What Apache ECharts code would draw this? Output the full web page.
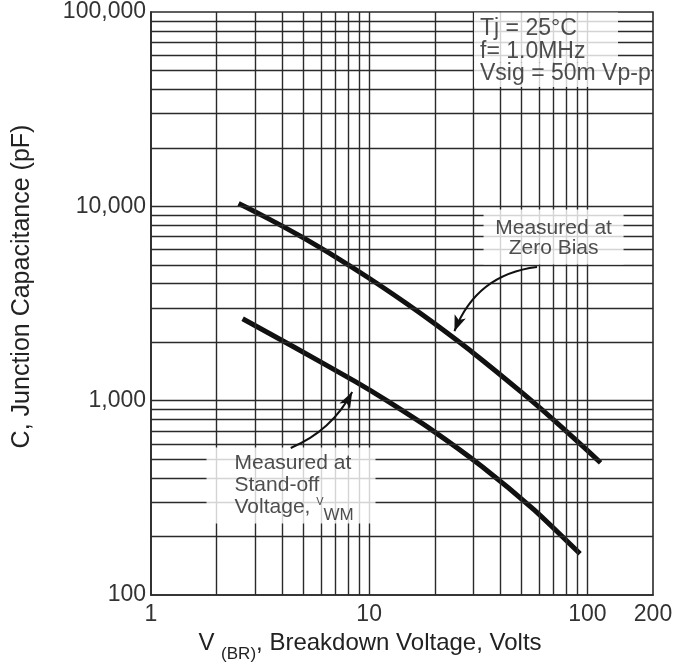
<!DOCTYPE html>
<html><head><meta charset="utf-8">
<script src="https://cdn.jsdelivr.net/npm/echarts@6/dist/echarts.min.js"></script>
<style>html,body{margin:0;padding:0;background:#fff}#c{width:677px;height:665px}</style>
</head><body><div id="c"></div>
<script>
// ---- data ----
const xTickValues = [1, 10, 100, 200];
const yTickValues = [100, 1000, 10000, 100000];
const xGridValues = [2, 3, 4, 5, 6, 7, 8, 9, 10, 20, 30, 40, 50, 60, 70, 80, 90, 100];
const yGridValues = [200, 300, 400, 500, 600, 700, 800, 900, 1000,
  2000, 3000, 4000, 5000, 6000, 7000, 8000, 9000, 10000,
  20000, 30000, 40000, 50000, 60000, 70000, 80000, 90000];

const zeroBiasVolts = [2.52, 3, 4, 5, 7, 10, 15, 20, 30, 50, 70, 100, 115];
const zeroBiasCap   = [10350, 9385, 7913, 6875, 5495, 4264, 3133, 2485, 1760, 1103, 797, 555, 479];
const standoffVolts = [2.63, 4.52, 8.69, 12.0, 19.2, 33.1, 56.9, 92.6];
const standoffCap   = [2640, 1889, 1249, 1003, 712, 456, 275, 163];

// annotation anchors and arrows (data coordinates)
const conditionsAnchor  = [30.4, 98820];
const conditionsAnchor2 = [30.4, 54650];
const zeroBiasNoteAnchor = [70.4, 9575];
const standoffNoteAnchor = [1.806, 570.6];
const zeroBiasArrow = [[58.8, 4873], [24.6, 2277]];
const standoffArrow = [[4.37, 571], [8.36, 1107]];

const FONT = '"Liberation Sans", Arial, sans-serif';
const TXT = '#222';
const GRID = '#2a2a2a';
const fmtComma = v => String(Math.round(v)).replace(/\B(?=(\d{3})+(?!\d))/g, ',');
const zip = (a, b) => a.map((v, i) => [v, b[i]]);

const chart = echarts.init(document.getElementById('c'), null, {renderer: 'canvas'});
chart.setOption({
  animation: false,
  backgroundColor: '#fff',
  grid: {left: 151, right: 24, top: 12, bottom: 70, show: true, borderColor: GRID, borderWidth: 1.6,
         backgroundColor: 'transparent', containLabel: false, outerBoundsMode: 'none'},
  xAxis: {
    type: 'log', logBase: 10, min: 1, max: 200,
    axisLine: {show: true, lineStyle: {color: GRID, width: 1.6}},
    axisTick: {show: false}, splitLine: {show: false}, minorTick: {show: false}, minorSplitLine: {show: false},
    axisLabel: {customValues: xTickValues, fontSize: 23, color: '#333', fontFamily: FONT, margin: 8,
                formatter: v => String(v)},
    name: '{a|V}{sp| }{sub|(BR)}{a|, Breakdown Voltage, Volts}',
    nameLocation: 'middle', nameGap: 31,
    nameTextStyle: {
      padding: [0, 64, 0, 0],
      rich: {
        a: {fontSize: 24, lineHeight: 25, verticalAlign: 'top', fontFamily: FONT, color: TXT},
        sp: {fontSize: 24, lineHeight: 32, verticalAlign: 'top', fontFamily: FONT, color: TXT},
        sub: {fontSize: 17, lineHeight: 17, verticalAlign: 'bottom', fontFamily: FONT, color: TXT}
      }
    }
  },
  yAxis: {
    type: 'log', logBase: 10, min: 100, max: 100000,
    axisLine: {show: true, lineStyle: {color: GRID, width: 1.6}},
    axisTick: {show: false}, splitLine: {show: false}, minorTick: {show: false}, minorSplitLine: {show: false},
    axisLabel: {customValues: yTickValues, fontSize: 23, color: '#333', fontFamily: FONT, margin: 5,
                formatter: v => fmtComma(v)},
    name: 'C, Junction Capacitance (pF)',
    nameLocation: 'middle', nameGap: 116,
    nameTextStyle: {fontSize: 25, color: TXT, fontFamily: FONT, padding: [0, 0, 0, 34]}
  },
  series: [
    {
      name: 'grid', type: 'scatter', data: [], z: 1, silent: true,
      markLine: {
        silent: true, symbol: ['none', 'none'], animation: false,
        label: {show: false}, emphasis: {disabled: true},
        lineStyle: {color: GRID, width: 1.4, type: 'solid'},
        data: xGridValues.map(v => ({xAxis: v})).concat(yGridValues.map(v => ({yAxis: v})))
      }
    },
    {
      name: 'Measured at Zero Bias', type: 'line', z: 3, smooth: 0.2, symbol: 'none',
      lineStyle: {color: '#111', width: 5},
      data: zip(zeroBiasVolts, zeroBiasCap)
    },
    {
      name: 'Measured at Stand-off Voltage', type: 'line', z: 3, smooth: 0.2, symbol: 'none',
      lineStyle: {color: '#111', width: 5},
      data: zip(standoffVolts, standoffCap)
    },
    {
      name: 'notes', type: 'scatter', z: 5, silent: true, symbolSize: 1,
      itemStyle: {color: 'rgba(0,0,0,0)'},
      label: {show: true, position: [0, 0], align: 'left', verticalAlign: 'top',
              fontFamily: FONT, color: TXT, fontSize: 21, backgroundColor: '#fff'},
      data: [
        {value: conditionsAnchor, label: {formatter: 'Tj = 25°C\nf= 1.0MHz', fontSize: 23, padding: [5, 0, 0, 6], width: 138, lineHeight: 22.5}},
        {value: conditionsAnchor2, label: {formatter: 'Vsig = 50m Vp-p', fontSize: 23, padding: [0, 0, 2, 6], width: 171, lineHeight: 22.5}},
        {value: zeroBiasNoteAnchor, label: {formatter: 'Measured at\nZero Bias', align: 'center', padding: [9, 0, 6, 0], width: 140, lineHeight: 20}},
        {value: standoffNoteAnchor, label: {
          formatter: '{t|Measured at}\n{t|Stand-off}\n{t|Voltage,}{sp| }{v|V}{s|WM}',
          padding: [5, 0, 0, 28], width: 141,
          rich: {
            t: {fontSize: 21, lineHeight: 22, verticalAlign: 'top', fontFamily: FONT, color: TXT},
            sp: {fontSize: 21, lineHeight: 27, verticalAlign: 'top', fontFamily: FONT, color: TXT},
            v: {fontSize: 11, lineHeight: 11, verticalAlign: 'top', fontFamily: FONT, color: TXT},
            s: {fontSize: 17, lineHeight: 17, verticalAlign: 'bottom', fontFamily: FONT, color: TXT}
          }
        }}
      ]
    },
    {
      name: 'arrows', type: 'lines', coordinateSystem: 'cartesian2d', z: 6, silent: true,
      symbol: ['none', 'arrow'], symbolSize: [1, [9, 16]],
      lineStyle: {color: '#111', width: 2, opacity: 1},
      data: [
        {coords: zeroBiasArrow, lineStyle: {curveness: -0.3}},
        {coords: standoffArrow, lineStyle: {curveness: -0.18}}
      ]
    }
  ]
});
</script>
</body></html>
